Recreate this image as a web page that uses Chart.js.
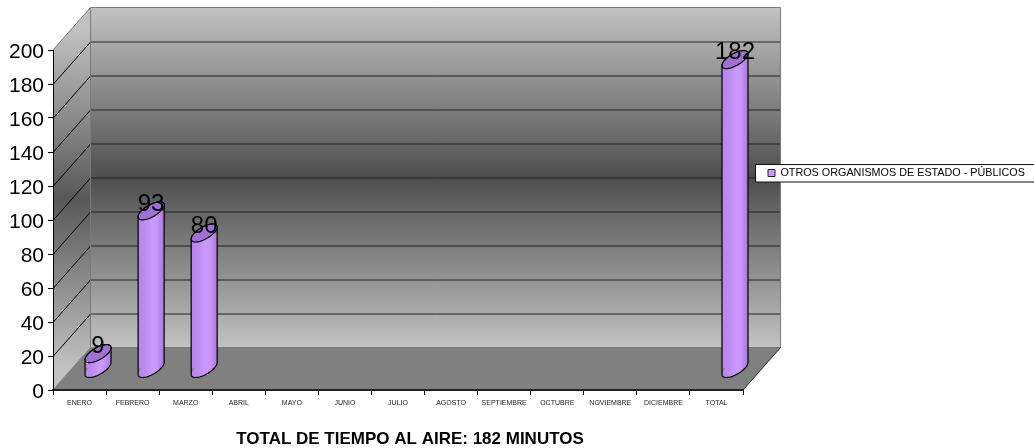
<!DOCTYPE html>
<html><head><meta charset="utf-8">
<style>html,body{margin:0;padding:0;background:#fff}#w{width:1034px;height:448px}</style>
<script src="https://cdn.jsdelivr.net/npm/chart.js@4"></script></head>
<body><div id="w"><canvas id="c" width="1034" height="448"></canvas></div>
<script>
const categories = ["ENERO","FEBRERO","MARZO","ABRIL","MAYO","JUNIO","JULIO","AGOSTO","SEPTIEMBRE","OCTUBRE","NOVIEMBRE","DICIEMBRE","TOTAL"];
const seriesValues = [9,93,80,null,null,null,null,null,null,null,null,null,182];
const dataLabels = ["9","93","80",null,null,null,null,null,null,null,null,null,"182"];
const yTicks = [0,20,40,60,80,100,120,140,160,180,200];
const seriesName = "OTROS ORGANISMOS DE ESTADO - PÚBLICOS";
const chartTitle = "TOTAL DE TIEMPO AL AIRE: 182 MINUTOS";

const DX = 37.5, DY = -42.5;      // depth of the 3D box
const BDX = 18.5, BDY = -21;      // bars stand mid-depth
const CAP_S = 6, CAP_H = 9;       // tilted elliptical bar ends

function capPoint(cx, cy, hw, t){
  const r = Math.sqrt(CAP_H*CAP_H - CAP_S*CAP_S);
  return [cx + hw*Math.cos(t), cy - CAP_S*Math.cos(t) + r*Math.sin(t)];
}
function traceHull(p, el){
  const hw = el.width/2;
  for(let i=0;i<=30;i++){ const q=capPoint(el.x,el.y,hw,Math.PI+Math.PI*i/30); i?p.lineTo(q[0],q[1]):p.moveTo(q[0],q[1]); }
  for(let i=0;i<=30;i++){ const q=capPoint(el.x,el.base,hw,Math.PI*i/30); p.lineTo(q[0],q[1]); }
  p.closePath();
}
function traceEllipse(p, x, y, hw){
  for(let k=0;k<=60;k++){const q=capPoint(x,y,hw,2*Math.PI*k/60); k?p.lineTo(q[0],q[1]):p.moveTo(q[0],q[1]);}
  p.closePath();
}
function bodyGradient(ctx, x, hw){
  const g = ctx.createLinearGradient(x-hw,0,x+hw,0);
  g.addColorStop(0,'#b584e6'); g.addColorStop(0.25,'#bd8cee'); g.addColorStop(0.55,'#cc99ff');
  g.addColorStop(0.72,'#c896fa'); g.addColorStop(1,'#a878d8');
  return g;
}

const box3d = {
  id:'box3d',
  beforeLayout(chart){
    const lg=chart.legend;
    lg._layers=()=>[{z:5,draw(){
      const ctx=chart.ctx;
      ctx.save();ctx.fillStyle='#fff';ctx.fillRect(755.5,164.5,279,17.5);
      ctx.strokeStyle='#111';ctx.lineWidth=1;ctx.strokeRect(755.5,164.5,279,17.5);ctx.restore();
      lg.draw();
    }}];
  },
  afterLayout(chart){
    const lg=chart.legend; lg.top=164; lg.bottom=182; lg.left=763; lg.right=1034;
    const tb=chart.titleBlock; tb.left=0; tb.right=820; tb.top+=2.5; tb.bottom+=2.5;
  },
  beforeDraw(chart){
    const {ctx,scales:{x,y},chartArea:a} = chart;
    const L=a.left,R=a.right,T=y.getPixelForValue(200),B=y.getPixelForValue(0);
    ctx.save();
    // back wall
    let g = ctx.createLinearGradient(0,T+DY,0,B+DY);
    g.addColorStop(0,'#c2c2c2'); g.addColorStop(0.5,'#4e4e4e'); g.addColorStop(1,'#c2c2c2');
    ctx.fillStyle=g; ctx.fillRect(L+DX,T+DY,R-L,B-T);
    // side wall
    g = ctx.createLinearGradient(0,T+DY/2,0,B+DY/2);
    g.addColorStop(0,'#c2c2c2'); g.addColorStop(0.5,'#585858'); g.addColorStop(1,'#c2c2c2');
    ctx.fillStyle=g;
    ctx.beginPath();ctx.moveTo(L,T);ctx.lineTo(L+DX,T+DY);ctx.lineTo(L+DX,B+DY);ctx.lineTo(L,B);ctx.closePath();ctx.fill();
    // floor
    ctx.fillStyle='#808080';
    ctx.beginPath();ctx.moveTo(L,B);ctx.lineTo(R,B);ctx.lineTo(R+DX,B+DY);ctx.lineTo(L+DX,B+DY);ctx.closePath();ctx.fill();
    // grid lines
    ctx.lineWidth=1;
    yTicks.forEach(v=>{
      const py=Math.round(y.getPixelForValue(v))+0.5;
      if(v>0 && v<200){
        ctx.strokeStyle='#222';
        ctx.beginPath();ctx.moveTo(L+DX,py+DY);ctx.lineTo(R+DX,py+DY);ctx.stroke();
        ctx.strokeStyle='#000';
        ctx.beginPath();ctx.moveTo(L,py);ctx.lineTo(L+DX,py+DY);ctx.stroke();
      }
    });
    // box edges
    ctx.strokeStyle='#7a7a7a';
    ctx.beginPath();
    ctx.moveTo(L,T);ctx.lineTo(L+DX,T+DY);ctx.lineTo(R+DX,T+DY);ctx.lineTo(R+DX,B+DY);ctx.lineTo(L+DX,B+DY);ctx.lineTo(L+DX,T+DY);
    ctx.moveTo(L,B);ctx.lineTo(L+DX,B+DY);
    ctx.stroke();
    ctx.strokeStyle='#222';
    ctx.beginPath();ctx.moveTo(R,B);ctx.lineTo(R+DX,B+DY);ctx.stroke();
    ctx.restore();
  },
  beforeDatasetDraw(chart,args){
    const ctx=chart.ctx;
    ctx.save();
    ctx.translate(BDX,BDY);
    // each bar is painted only inside its cylinder silhouette
    const path=new Path2D();
    args.meta.data.forEach((el,i)=>{
      if(seriesValues[i]==null) return;
      const sub=new Path2D(); traceHull(sub,el); path.addPath(sub);
    });
    ctx.clip(path);
  },
  afterDatasetDraw(chart,args){
    const ctx=chart.ctx;
    ctx.restore();
    ctx.save();
    ctx.translate(BDX,BDY);
    args.meta.data.forEach((el,i)=>{
      if(seriesValues[i]==null) return;
      const hw=el.width/2;
      // bottom end of the cylinder
      ctx.fillStyle=bodyGradient(ctx,el.x,hw);
      ctx.beginPath();traceEllipse(ctx,el.x,el.base,hw);ctx.fill();
      // outline
      ctx.strokeStyle='#000';ctx.lineWidth=1.2;
      ctx.beginPath();traceHull(ctx,el);ctx.stroke();
      // top cap
      ctx.fillStyle='#a070d2';
      ctx.beginPath();traceEllipse(ctx,el.x,el.y,hw);ctx.fill();ctx.stroke();
    });
    // value labels
    ctx.fillStyle='#000';ctx.font='24px "Liberation Sans"';ctx.textAlign='center';ctx.textBaseline='middle';
    args.meta.data.forEach((el,i)=>{
      if(dataLabels[i]==null) return;
      ctx.fillText(dataLabels[i],el.x,el.y-7);
    });
    ctx.restore();
  }
};

new Chart(document.getElementById('c'),{
  type:'bar',
  data:{labels:categories,datasets:[{
    label:seriesName,data:seriesValues,
    backgroundColor:(c)=>{
      const x=c.chart.scales.x; if(!x||c.dataIndex===undefined) return '#cc99ff';
      return bodyGradient(c.chart.ctx,x.getPixelForValue(c.dataIndex),13);
    },
    borderWidth:0,barPercentage:0.49,categoryPercentage:1,clip:false
  }]},
  options:{
    responsive:false,animation:false,
    layout:{padding:{left:0,right:19,top:50,bottom:0}},
    scales:{
      x:{
        grid:{display:true,drawOnChartArea:false,drawTicks:true,tickLength:5,color:'#000',offset:true},
        border:{display:true,color:'#222',width:2},
        ticks:{font:{family:'"Liberation Sans"',size:7},color:'#222',maxRotation:0,minRotation:0,autoSkip:false,padding:4},
        afterFit(s){s.height=29.6;}
      },
      y:{
        min:0,max:200,
        afterBuildTicks(s){s.ticks=yTicks.map(v=>({value:v}));},
        grid:{display:true,drawOnChartArea:false,drawTicks:true,tickLength:5,color:'#000'},
        border:{display:true,color:'#000',width:1},
        ticks:{font:{family:'"Liberation Sans"',size:21},color:'#000',padding:4,labelOffset:2},
        afterFit(s){s.width=53;}
      }
    },
    plugins:{
      tooltip:{enabled:false},
      legend:{
        display:true,position:'right',align:'center',maxWidth:290,
        labels:{
          boxWidth:7,boxHeight:7,padding:5,color:'#000',
          font:{family:'"Liberation Sans"',size:10.8},
          generateLabels(ch){return [{text:ch.data.datasets[0].label,fillStyle:'#cc99ff',strokeStyle:'#222',lineWidth:1,datasetIndex:0}];}
        }
      },
      title:{
        display:true,position:'bottom',text:chartTitle,color:'#000',
        font:{family:'"Liberation Sans"',size:17,weight:'bold'},
        padding:{top:7,bottom:1}
      }
    }
  },
  plugins:[box3d]
});
</script></body></html>
